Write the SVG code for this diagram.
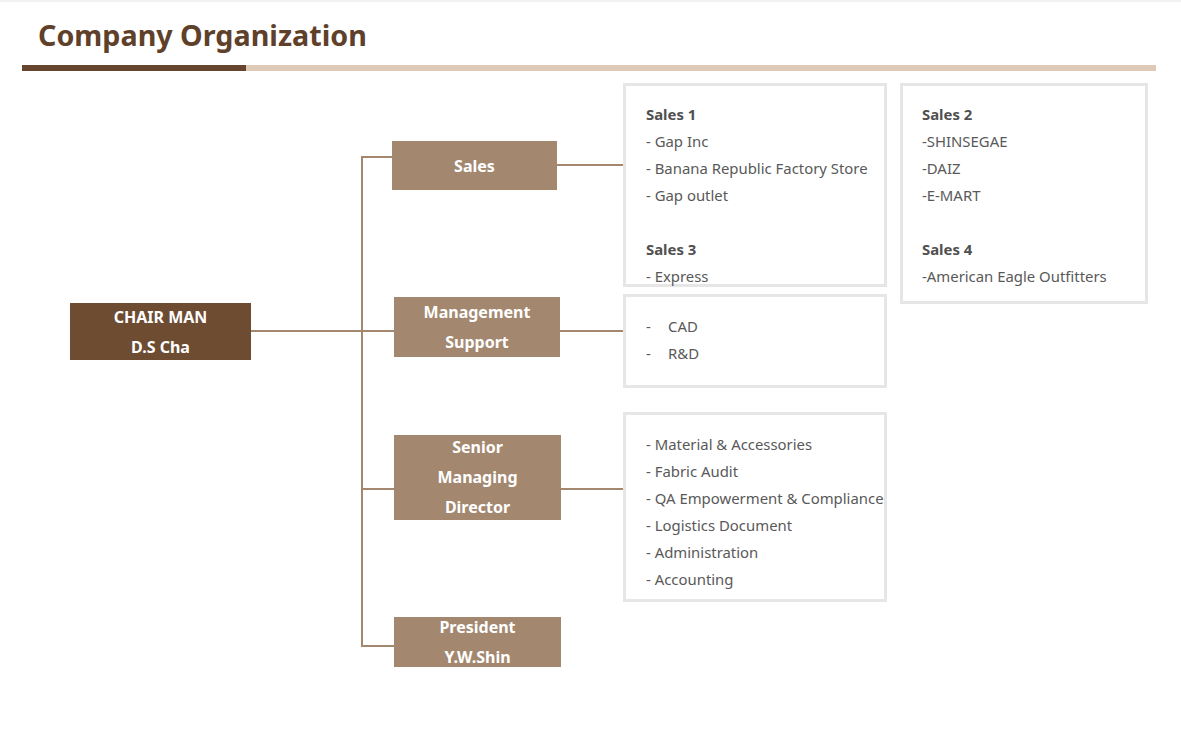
<svg xmlns="http://www.w3.org/2000/svg" width="1181" height="747" viewBox="0 0 1181 747">
<style>
.title{font-family:"Noto Sans","Liberation Sans",sans-serif;font-weight:bold;font-size:28.7px;fill:#5f412b}
.nl{font-family:"Noto Sans","Liberation Sans",sans-serif;font-weight:bold;font-size:16px;fill:#ffffff;text-anchor:middle;dominant-baseline:central}
.node{fill:#a3886f}
.chair{fill:#6d4c32}
.box{fill:#ffffff;stroke:#e6e6e6;stroke-width:3}
.t{font-family:"Noto Sans","Liberation Sans",sans-serif;font-size:14.9px;fill:#595959;dominant-baseline:central}
.h{font-weight:bold;fill:#505050}
.conn{stroke:#a3886f;stroke-width:2;fill:none}
</style>
<rect x="0" y="0" width="1181" height="747" fill="#ffffff"/>
<rect x="0" y="0" width="1181" height="2" fill="#f2f2f2"/>
<text class="title" x="38" y="46">Company Organization</text>
<rect x="22" y="65" width="224" height="6" fill="#65452d"/>
<rect x="246" y="65" width="910" height="6" fill="#dfcab8"/>

<g id="connectors">
<line class="conn" x1="251" y1="331" x2="362" y2="331"/>
<polyline class="conn" points="392,157 362,157 362,646 394,646"/>
<line class="conn" x1="362" y1="331" x2="394" y2="331"/>
<line class="conn" x1="362" y1="489" x2="394" y2="489"/>
<line class="conn" x1="557" y1="165" x2="624" y2="165"/>
<line class="conn" x1="560" y1="331" x2="624" y2="331"/>
<line class="conn" x1="561" y1="489" x2="623" y2="489"/>
</g>

<g id="chairman">
<rect class="chair" x="70" y="303" width="181" height="57"/>
<text class="nl" x="160.5" y="317">CHAIR MAN</text>
<text class="nl" x="160.5" y="347">D.S Cha</text>
</g>

<g id="sales">
<rect class="node" x="392" y="141" width="165" height="49"/>
<text class="nl" x="474.5" y="166">Sales</text>
</g>

<g id="management">
<rect class="node" x="394" y="297" width="166" height="60"/>
<text class="nl" x="477" y="312">Management</text>
<text class="nl" x="477" y="342">Support</text>
</g>

<g id="senior">
<rect class="node" x="394" y="435" width="167" height="85"/>
<text class="nl" x="477.5" y="447">Senior</text>
<text class="nl" x="477.5" y="477">Managing</text>
<text class="nl" x="477.5" y="507">Director</text>
</g>

<g id="president">
<rect class="node" x="394" y="617" width="167" height="50"/>
<text class="nl" x="477.5" y="627">President</text>
<text class="nl" x="477.5" y="657">Y.W.Shin</text>
</g>

<g id="sales-box-1">
<rect class="box" x="624.5" y="84.5" width="261" height="201"/>
<text class="t h" x="646" y="114">Sales 1</text>
<text class="t" x="646" y="141">- Gap Inc</text>
<text class="t" x="646" y="168">- Banana Republic Factory Store</text>
<text class="t" x="646" y="195">- Gap outlet</text>
<text class="t h" x="646" y="249">Sales 3</text>
<text class="t" x="646" y="276">- Express</text>
</g>

<g id="sales-box-2">
<rect class="box" x="901.5" y="84.5" width="245" height="218"/>
<text class="t h" x="922" y="114">Sales 2</text>
<text class="t" x="922" y="141">-SHINSEGAE</text>
<text class="t" x="922" y="168">-DAIZ</text>
<text class="t" x="922" y="195">-E-MART</text>
<text class="t h" x="922" y="249">Sales 4</text>
<text class="t" x="922" y="276">-American Eagle Outfitters</text>
</g>

<g id="management-box">
<rect class="box" x="624.5" y="295.5" width="261" height="91"/>
<text class="t" x="646" y="326">-</text>
<text class="t" x="668" y="326">CAD</text>
<text class="t" x="646" y="353">-</text>
<text class="t" x="668" y="353">R&amp;D</text>
</g>

<g id="senior-box">
<rect class="box" x="624.5" y="413.5" width="261" height="187"/>
<text class="t" x="646" y="444">- Material &amp; Accessories</text>
<text class="t" x="646" y="471">- Fabric Audit</text>
<text class="t" x="646" y="498">- QA Empowerment &amp; Compliance</text>
<text class="t" x="646" y="525">- Logistics Document</text>
<text class="t" x="646" y="552">- Administration</text>
<text class="t" x="646" y="579">- Accounting</text>
</g>
</svg>
